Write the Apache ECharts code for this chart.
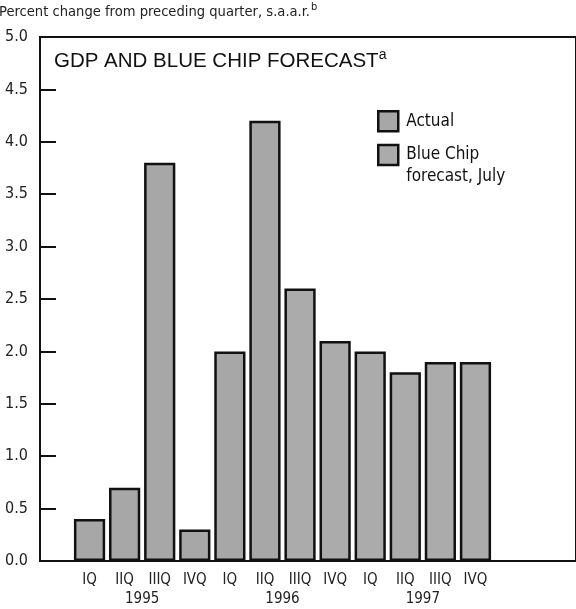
<!DOCTYPE html>
<html><head><meta charset="utf-8">
<script src="https://cdn.jsdelivr.net/npm/echarts@6/dist/echarts.min.js"></script>
<style>html,body{margin:0;padding:0;background:#fff}#c{width:576px;height:609px}</style>
</head><body><div id="c"></div>
<script>
const categories = ['IQ','IIQ','IIIQ','IVQ','IQ','IIQ','IIIQ','IVQ','IQ','IIQ','IIIQ','IVQ'];
const years = ['1995','1996','1997'];
const actual = [0.4, 0.7, 3.8, 0.3, 2.0, 4.2, null, null, null, null, null, null];
const forecast = [null, null, null, null, null, null, 2.6, 2.1, 2.0, 1.8, 1.9, 1.9];
const yTickValues = [0, 0.5, 1, 1.5, 2, 2.5, 3, 3.5, 4, 4.5, 5];

const NARROW = '"DejaVu Sans Condensed", "Liberation Sans Narrow", sans-serif';
const chart = echarts.init(document.getElementById('c'), null, {renderer: 'canvas'});
const barStyleA = {color: '#a7a7a7', borderColor: '#111', borderWidth: 2.5};
const barStyleF = {color: '#ababab', borderColor: '#111', borderWidth: 2.5};
chart.setOption({
  backgroundColor: '#fff',
  animation: false,
  title: [
    {text: 'Percent change from preceding quarter, s.a.a.r.{sup|b}', left: -1, top: 2, padding: 0,
     textStyle: {fontFamily: NARROW, fontSize: 14.6, fontWeight: 'normal', color: '#222',
       rich: {sup: {fontFamily: NARROW, fontSize: 11, color: '#222', padding: [0, 0, 9, 1]}}}},
    {text: 'GDP AND BLUE CHIP FORECAST{sup|a}', left: 54, top: 48, padding: 0,
     textStyle: {fontFamily: '"Liberation Sans", Arial, sans-serif', fontSize: 20.5, fontWeight: 'normal', color: '#111',
       rich: {sup: {fontFamily: '"Liberation Sans", Arial, sans-serif', fontSize: 14, color: '#111', padding: [0, 0, 12, 0]}}}}
  ],
  legend: [
    {data: ['Actual'], orient: 'vertical', left: 377, top: 110, padding: 0, icon: 'rect', itemWidth: 20, itemHeight: 20,
     itemStyle: {borderColor: '#111', borderWidth: 2.5},
     textStyle: {fontFamily: NARROW, fontSize: 17, color: '#111', lineHeight: 22, padding: [0, 0, 0, 3]}, selectedMode: false},
    {data: ['Blue Chip forecast, July'], orient: 'vertical', left: 377, top: 122, padding: 0, icon: 'rect', itemWidth: 20, itemHeight: 20,
     itemStyle: {borderColor: '#111', borderWidth: 2.5},
     formatter: function () { return ' \nBlue Chip\nforecast, July'; },
     textStyle: {fontFamily: NARROW, fontSize: 17, color: '#111', lineHeight: 22, padding: [0, 0, 0, 3]}, selectedMode: false}
  ],
  grid: [
    {left: 40, right: -4, top: 37, bottom: 48, show: true, borderColor: '#111', borderWidth: 2, backgroundColor: 'transparent'},
    {left: 72, right: 83, top: 37, bottom: 48}
  ],
  xAxis: [
    {gridIndex: 0, type: 'value', min: 0, max: 1, show: false},
    {gridIndex: 1, type: 'category', data: categories, position: 'bottom',
     axisLine: {show: false}, axisTick: {show: false},
     axisLabel: {fontFamily: NARROW, fontSize: 15, color: '#222', margin: 12, interval: 0}},
    {gridIndex: 1, type: 'category', data: years, position: 'bottom', offset: 19,
     axisLine: {show: false}, axisTick: {show: false},
     axisLabel: {fontFamily: NARROW, fontSize: 15, color: '#222', margin: 12, interval: 0}}
  ],
  yAxis: [
    {gridIndex: 0, type: 'value', min: 0, max: 5, interval: 0.5,
     axisLine: {show: true, lineStyle: {color: '#111', width: 2}},
     axisTick: {show: true, inside: true, length: 16, lineStyle: {color: '#111', width: 2},
       customValues: yTickValues},
     axisLabel: {fontFamily: NARROW, fontSize: 16, color: '#222', margin: 12,
       customValues: yTickValues, formatter: function (v) { return v.toFixed(1); }},
     splitLine: {show: false}},
    {gridIndex: 1, type: 'value', min: 0, max: 5, show: false}
  ],
  series: [
    {name: 'Actual', type: 'bar', xAxisIndex: 1, yAxisIndex: 1, data: actual,
     barGap: '-100%', barCategoryGap: '11%', itemStyle: barStyleA},
    {name: 'Blue Chip forecast, July', type: 'bar', xAxisIndex: 1, yAxisIndex: 1, data: forecast,
     barGap: '-100%', barCategoryGap: '11%', itemStyle: barStyleF}
  ]
});
</script>
</body></html>
